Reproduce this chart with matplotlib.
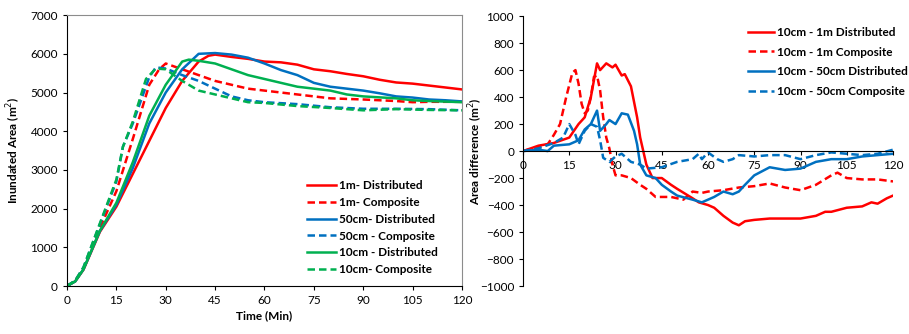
import matplotlib
matplotlib.use('Agg')
import matplotlib.pyplot as plt

plt.rcParams['font.family'] = ['Lato', 'DejaVu Sans']

RED = '#FF0000'
BLUE = '#0070C0'
GREEN = '#00B050'

# ---- left chart: inundated area (m2) vs time (min) ----
t_1m_dist = [0, 2.5, 5, 10, 15, 20, 25, 30, 35, 40, 43, 45, 50, 55, 60, 65, 70, 75, 80, 85, 90, 95, 100, 105, 110, 115, 120]
a_1m_dist = [0, 120, 420, 1400, 2050, 2900, 3750, 4600, 5300, 5800, 5950, 5980, 5920, 5870, 5800, 5780, 5720, 5600, 5550, 5480, 5420, 5330, 5260, 5230, 5180, 5130, 5080]

t_1m_comp = [0, 2.5, 5, 10, 15, 20, 25, 28, 30, 35, 40, 45, 50, 55, 60, 70, 75, 80, 90, 100, 105, 110, 120]
a_1m_comp = [0, 130, 450, 1500, 2450, 3800, 5200, 5600, 5750, 5600, 5450, 5300, 5200, 5100, 5050, 4950, 4900, 4850, 4820, 4780, 4750, 4760, 4760]

t_50_dist = [0, 2.5, 5, 10, 15, 20, 25, 30, 35, 40, 45, 50, 55, 60, 65, 70, 75, 80, 85, 90, 95, 100, 105, 110, 115, 120]
a_50_dist = [0, 120, 430, 1420, 2100, 3050, 4200, 5000, 5600, 6000, 6020, 5980, 5900, 5750, 5580, 5450, 5250, 5150, 5100, 5050, 4980, 4900, 4870, 4820, 4800, 4770]

t_50_comp = [0, 2.5, 5, 10, 15, 17, 20, 25, 27, 30, 35, 40, 45, 50, 55, 60, 70, 80, 90, 100, 110, 120]
a_50_comp = [0, 140, 480, 1600, 2700, 3600, 4200, 5400, 5650, 5620, 5450, 5300, 5100, 4900, 4800, 4750, 4700, 4620, 4580, 4580, 4570, 4540]

t_10_dist = [0, 2.5, 5, 10, 15, 20, 25, 30, 35, 37, 40, 45, 50, 55, 60, 65, 70, 75, 80, 85, 90, 100, 105, 110, 120]
a_10_dist = [0, 120, 430, 1430, 2150, 3200, 4400, 5200, 5800, 5850, 5820, 5750, 5600, 5450, 5350, 5250, 5150, 5100, 5050, 4950, 4900, 4850, 4800, 4780, 4750]

t_10_comp = [0, 2.5, 5, 10, 15, 17, 20, 24, 27, 30, 35, 40, 45, 50, 55, 60, 70, 80, 90, 100, 110, 120]
a_10_comp = [0, 140, 480, 1620, 2750, 3600, 4250, 5350, 5620, 5600, 5300, 5050, 4950, 4850, 4750, 4730, 4650, 4600, 4540, 4570, 4550, 4540]

# ---- right chart: area difference (m2) vs time (min) ----
t_d1 = [0, 5, 10, 15, 18, 20, 22, 24, 25, 27, 29, 30, 32, 33, 35, 37, 38, 40, 42, 45, 48, 50, 55, 57, 60, 62, 65, 68, 70, 72, 75, 80, 85, 90, 95, 98, 100, 105, 110, 113, 115, 118, 120]
d_1m_dist = [0, 40, 60, 100, 200, 250, 400, 650, 600, 650, 620, 640, 560, 570, 480, 250, 100, -100, -200, -200, -250, -280, -350, -380, -400, -420, -480, -530, -550, -520, -510, -500, -500, -500, -480, -450, -450, -420, -410, -380, -390, -350, -330]

t_c1 = [0, 5, 8, 10, 12, 14, 16, 17, 18, 19, 20, 21, 22, 23, 24, 25, 26, 27, 28, 29, 30, 32, 35, 38, 40, 43, 45, 48, 52, 55, 58, 60, 65, 70, 75, 80, 85, 90, 95, 100, 102, 105, 110, 115, 120]
d_1m_comp = [0, 30, 50, 120, 200, 400, 580, 600, 500, 350, 280, 300, 400, 550, 560, 450, 250, 100, 20, -100, -180, -180, -200, -250, -280, -340, -340, -340, -360, -300, -310, -300, -290, -270, -260, -240, -270, -290, -250, -180, -160, -200, -210, -210, -225]

t_d50 = [0, 5, 8, 10, 15, 18, 20, 22, 24, 25, 27, 28, 30, 32, 34, 36, 37, 38, 40, 43, 45, 48, 50, 55, 58, 60, 62, 65, 68, 70, 72, 75, 80, 85, 90, 95, 100, 105, 110, 115, 120]
d_50_dist = [0, 10, 0, 40, 50, 80, 160, 200, 300, 150, 200, 230, 200, 280, 270, 150, 50, -100, -180, -200, -250, -300, -330, -360, -380, -360, -340, -300, -320, -300, -250, -180, -120, -140, -130, -80, -60, -60, -40, -30, -20]

t_c50 = [0, 5, 10, 13, 15, 17, 18, 19, 20, 22, 24, 25, 26, 28, 30, 32, 35, 38, 40, 45, 50, 55, 57, 58, 60, 63, 65, 68, 70, 75, 80, 85, 90, 95, 100, 105, 110, 115, 120]
d_50_comp = [0, 20, 60, 100, 200, 120, 50, 100, 150, 200, 180, 80, -50, -80, -40, -20, -80, -100, -130, -120, -80, -60, -20, -60, -10, -60, -80, -60, -30, -40, -30, -30, -60, -30, -10, -20, -30, -20, 10]

fig = plt.figure(figsize=(9.09, 3.34), dpi=100)

lw = 1.8
dash = (3.0, 1.6)

# Left chart
ax1 = fig.add_axes([0.0737, 0.1437, 0.4345, 0.811])
ax1.plot(t_1m_dist, a_1m_dist, color=RED, lw=lw, label='1m- Distributed')
ax1.plot(t_1m_comp, a_1m_comp, color=RED, lw=lw, ls=(0, dash), label='1m- Composite')
ax1.plot(t_50_dist, a_50_dist, color=BLUE, lw=lw, label='50cm- Distributed')
ax1.plot(t_50_comp, a_50_comp, color=BLUE, lw=lw, ls=(0, dash), label='50cm - Composite')
ax1.plot(t_10_dist, a_10_dist, color=GREEN, lw=lw, label='10cm - Distributed')
ax1.plot(t_10_comp, a_10_comp, color=GREEN, lw=lw, ls=(0, dash), label='10cm- Composite')
ax1.set_xlim(0, 120)
ax1.set_ylim(0, 7000)
ax1.set_xticks(range(0, 121, 15))
ax1.set_yticks(range(0, 7001, 1000))
ax1.tick_params(labelsize=8.5, length=3, width=0.8)
ax1.set_xlabel('Time (Min)', fontsize=8.5, fontweight='bold', labelpad=3)
ax1.set_ylabel('Inundated Area (m$^2$)', fontsize=8.5, fontweight='bold')
ax1.yaxis.set_label_coords(-0.112, 0.5)
for s in ['top', 'right']:
    ax1.spines[s].set_color('#8c8c8c')
ax1.legend(loc='lower right', bbox_to_anchor=(0.965, 0.0), frameon=False,
           prop={'weight': 'bold', 'size': 8.5}, handlelength=2.4,
           handletextpad=0.25, labelspacing=0.5)

# Right chart
ax2 = fig.add_axes([0.5754, 0.1437, 0.407, 0.808])
ax2.plot(t_d1, d_1m_dist, color=RED, lw=lw, label='10cm - 1m Distributed')
ax2.plot(t_c1, d_1m_comp, color=RED, lw=lw, ls=(0, dash), label='10cm - 1m Composite')
ax2.plot(t_d50, d_50_dist, color=BLUE, lw=lw, label='10cm - 50cm Distributed')
ax2.plot(t_c50, d_50_comp, color=BLUE, lw=lw, ls=(0, dash), label='10cm - 50cm Composite')
ax2.set_xlim(0, 120)
ax2.set_ylim(-1000, 1000)
ax2.set_xticks(range(0, 121, 15))
ax2.set_yticks(range(-1000, 1001, 200))
ax2.spines['bottom'].set_position(('data', 0))
ax2.spines['top'].set_visible(False)
ax2.spines['right'].set_visible(False)
ax2.tick_params(labelsize=8.5, length=3, width=0.8)
ax2.set_ylabel('Area difference (m$^2$)', fontsize=8.5, fontweight='bold')
ax2.yaxis.set_label_coords(-0.104, 0.5)
ax2.legend(loc='upper right', bbox_to_anchor=(1.07, 1.0), frameon=False,
           prop={'weight': 'bold', 'size': 8.5}, handlelength=2.2,
           handletextpad=0.3, labelspacing=0.75)

fig.savefig('out.png', dpi=100)
